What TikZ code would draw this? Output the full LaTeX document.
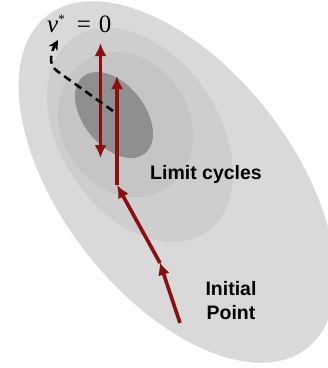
\documentclass[tikz,border=0pt]{standalone}
\usepackage{fontspec}
\setmainfont{Liberation Serif}
\setsansfont{Liberation Sans}
\usepackage{xcolor}
\usetikzlibrary{arrows.meta,positioning}
\definecolor{fieldout}{HTML}{D9D9D9}
\definecolor{fieldmid}{HTML}{CECECE}
\definecolor{fieldin}{HTML}{C5C5C5}
\definecolor{fieldcore}{HTML}{8F8F8F}
\definecolor{traj}{HTML}{8B0F0F}
\tikzset{
  trajarr/.style={-{Latex[length=13pt,width=12pt]},line width=3.6pt,draw=traj},
  trajboth/.style={{Latex[length=13pt,width=12pt]}-{Latex[length=13pt,width=12pt]},line width=3.6pt,draw=traj},
  rotarr/.style={-{Stealth[length=10pt,width=10pt]},line width=2.6pt,dash pattern=on 8pt off 5pt,draw=black},
  tag/.style={font=\sffamily\bfseries\fontsize{19.5}{24}\selectfont,inner sep=0pt,align=center}
}
\begin{document}
\begin{tikzpicture}[x=1pt,y=1pt]
  \useasboundingbox (0,0) rectangle (328,368);
  \clip (0,0) rectangle (328,368);

  \fill[fieldout,rotate around={-52:(177,186)}] (177,186) ellipse [x radius=211pt,y radius=115pt];
  \fill[fieldmid,rotate around={-55.8:(140,233)}] (140,233) ellipse [x radius=117.7pt,y radius=79pt];
  \fill[fieldin,rotate around={-57.9:(125.5,243.5)}] (125.5,243.5) ellipse [x radius=75.6pt,y radius=64pt];
  \fill[fieldcore,rotate around={-51.3:(114,253)}] (114,253) ellipse [x radius=49.3pt,y radius=30.6pt];

  \coordinate (init) at (180,45);
  \coordinate (mid) at (160,105);
  \coordinate (kink) at (117,183);
  \coordinate (peak) at (117,292);
  \coordinate (cyclo) at (100.5,210);
  \coordinate (cychi) at (100.5,325);
  \coordinate (rotstart) at (113,257);
  \coordinate (rotbend) at (57,297);
  \coordinate (rottip) at (58,328);

  \draw[trajarr,shorten >=-1pt] (init)--(mid);
  \draw[trajarr] (mid)--(kink);
  \draw[trajarr] (kink)--(peak);
  \draw[trajboth] (cyclo)--(cychi);
  \draw[rotarr] (rotstart)--(rotbend) to[out=145,in=240] (rottip);

  \node[anchor=base west,inner sep=0pt,font=\fontsize{25}{28}\selectfont] (vstar) at (47,336) {\textit{v}\raisebox{9pt}{\fontsize{13}{13}\selectfont *}\hspace{12pt}=\hspace{8pt}0};
  \node[tag,anchor=base west] (cycles) at (150,189) {Limit cycles};
  \node[tag] (initlabel) at (231,67) {Initial\\Point};
\end{tikzpicture}
\end{document}
